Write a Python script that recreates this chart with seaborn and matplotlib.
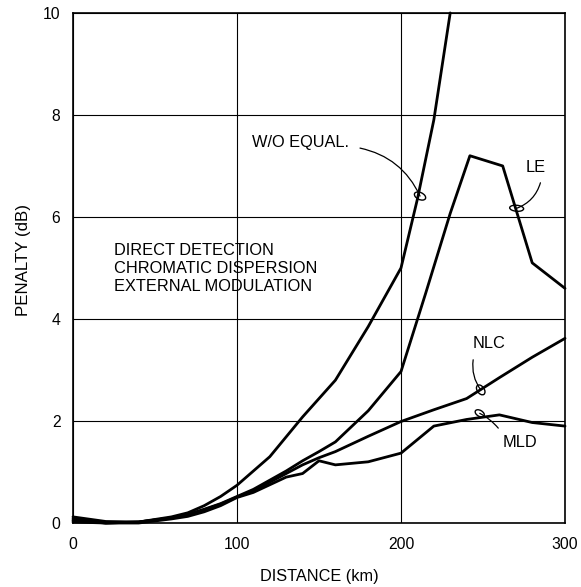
import matplotlib
matplotlib.use("Agg")
import matplotlib.pyplot as plt
import matplotlib.transforms as mtransforms
from matplotlib.patches import Ellipse
import seaborn as sns
import pandas as pd

# ---- data ----
wo_x = [0, 20, 40, 60, 70, 80, 90, 100, 120, 140, 160, 180, 200, 210, 220, 230]
wo_y = [0.08, 0.0, 0.02, 0.12, 0.2, 0.34, 0.52, 0.74, 1.3, 2.08, 2.8, 3.85, 5.0, 6.35, 7.9, 10.0]

le_x = [0, 20, 40, 60, 70, 80, 90, 100, 110, 120, 130, 140, 150, 160, 180, 200, 215, 230, 242, 262, 280, 300]
le_y = [0.12, 0.03, 0.02, 0.1, 0.17, 0.27, 0.38, 0.52, 0.66, 0.84, 1.02, 1.22, 1.4, 1.59, 2.2, 2.97, 4.5, 6.07, 7.2, 7.0, 5.1, 4.6]

nlc_x = [0, 20, 40, 60, 70, 80, 90, 100, 110, 120, 130, 140, 150, 160, 180, 200, 220, 240, 260, 280, 300]
nlc_y = [0.05, 0.0, 0.02, 0.1, 0.16, 0.26, 0.37, 0.51, 0.63, 0.8, 0.97, 1.14, 1.28, 1.4, 1.7, 1.99, 2.22, 2.44, 2.85, 3.25, 3.62]

mld_x = [0, 20, 40, 60, 70, 80, 90, 100, 110, 120, 130, 140, 150, 160, 180, 200, 220, 240, 260, 280, 300]
mld_y = [0.02, 0.0, 0.0, 0.08, 0.13, 0.22, 0.34, 0.5, 0.6, 0.75, 0.9, 0.97, 1.22, 1.14, 1.2, 1.37, 1.9, 2.03, 2.12, 1.97, 1.9]

x_ticks = [0, 100, 200, 300]
y_ticks = [0, 2, 4, 6, 8, 10]

info_lines = ["DIRECT DETECTION", "CHROMATIC DISPERSION", "EXTERNAL MODULATION"]

# ---- style ----
sns.set_style("white")
plt.rcParams["font.family"] = ["Liberation Sans", "DejaVu Sans"]
plt.rcParams["text.color"] = "black"
plt.rcParams["axes.labelcolor"] = "black"

fig = plt.figure(figsize=(5.81, 5.87), dpi=100)
ax = fig.add_axes([0.1256, 0.109, 0.9725 - 0.1256, 0.978 - 0.109])

series = [(wo_x, wo_y), (le_x, le_y), (nlc_x, nlc_y), (mld_x, mld_y)]
for xs, ys in series:
    df = pd.DataFrame({"distance": xs, "penalty": ys})
    sns.lineplot(data=df, x="distance", y="penalty", color="black",
                 linewidth=2.0, ax=ax, estimator=None, sort=False)
for line in ax.lines:
    line.set_clip_on(False)

ax.set_xlim(0, 300)
ax.set_ylim(0, 10)
ax.set_xticks(x_ticks)
ax.set_yticks(y_ticks)
ax.set_xticklabels([str(v) for v in x_ticks])
ax.set_yticklabels([str(v) for v in y_ticks])
ax.tick_params(axis="both", length=0, labelsize=11.3, colors="black")
ax.tick_params(axis="x", pad=10)
ax.tick_params(axis="y", pad=9)

ax.grid(True, color="black", linewidth=0.8)
ax.set_axisbelow(True)
for sp in ax.spines.values():
    sp.set_color("black")
    sp.set_linewidth(1.2)

ax.set_xlabel("DISTANCE (km)", fontsize=11.7, labelpad=12)
ax.set_ylabel("PENALTY (dB)", fontsize=12.2)
ax.yaxis.set_label_coords(-0.086, 0.516)

# info text
for i, t in enumerate(info_lines):
    ax.text(25.2, 5.34 - i * 0.355, t, fontsize=11.8, ha="left", va="center")

# curve labels with leader lines
ax.text(109, 7.45, "W/O EQUAL.", fontsize=11.8, ha="left", va="center")
ax.text(282, 6.97, "LE", fontsize=11.8, ha="center", va="center")
ax.text(253.7, 3.52, "NLC", fontsize=11.8, ha="center", va="center")
ax.text(272.4, 1.57, "MLD", fontsize=11.8, ha="center", va="center")

# (start, ellipse centre, rad, ellipse w px, h px, angle)
leaders = [((175, 7.35), (211.6, 6.41), -0.25, 12, 7, -25),
           ((285, 6.67), (270.5, 6.17), -0.25, 14, 6, -5),
           ((244, 3.2), (248.6, 2.61), 0.2, 11, 7, -55),
           ((259.3, 1.86), (248, 2.15), 0.1, 10, 6, -30)]
for start, end, rad, w, h, ang in leaders:
    ax.annotate("", xy=end, xytext=start,
                arrowprops=dict(arrowstyle="-", color="black", lw=0.9,
                                connectionstyle=f"arc3,rad={rad}",
                                shrinkA=0, shrinkB=0))
    trans = fig.dpi_scale_trans + mtransforms.ScaledTranslation(end[0], end[1], ax.transData)
    ax.add_patch(Ellipse((0, 0), width=w / 100, height=h / 100, angle=ang,
                         fill=False, edgecolor="black", linewidth=1.0,
                         transform=trans, clip_on=False))

fig.savefig("out.png", dpi=100)
